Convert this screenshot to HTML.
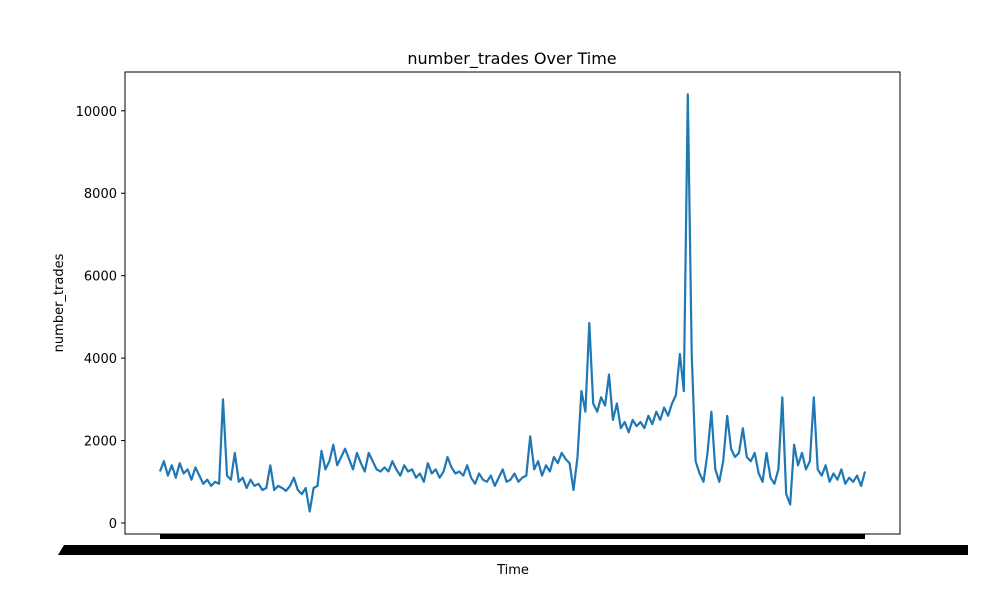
<!DOCTYPE html>
<html><head><meta charset="utf-8"><style>
body{margin:0;background:#fff;font-family:"Liberation Sans","DejaVu Sans",sans-serif}
svg text{font-family:"DejaVu Sans","Liberation Sans",sans-serif;font-size:13px;fill:#000}
</style></head><body>
<svg id="chart" width="1000" height="600">
<rect x="0" y="0" width="1000" height="600" fill="#fff"/>
<text x="512" y="64" text-anchor="middle" style="font-size:16px">number_trades Over Time</text>
<g id="yticks"></g>
<rect x="160" y="534" width="705" height="5" fill="#000"/>
<polygon points="58,555 64,545 968,545 968,555" fill="#000"/>
<text x="513" y="574" text-anchor="middle">Time</text>
<text transform="translate(63,303) rotate(-90)" text-anchor="middle">number_trades</text>
<polyline id="series" fill="none" stroke="#1f77b4" stroke-width="2.2" stroke-linejoin="round"/>
<rect x="125" y="72" width="775" height="462" fill="none" stroke="#000" stroke-width="1"/>
</svg>
<script>
const yTicks=[0,2000,4000,6000,8000,10000];
const values=[1250,1500,1150,1400,1100,1450,1200,1300,1050,1350,1150,
950,1050,900,1000,950,3000,1150,1050,1700,
1000,1100,850,1050,900,950,
800,850,1400,800,900,850,780,900,1100,800,700,850,280,850,900,1750,
1300,1500,1900,1400,1600,1800,1550,1300,1700,1450,1250,1700,1500,1300,1250,
1350,1250,1500,1300,1150,1400,1250,1300,1100,1200,1000,1450,1200,1300,1100,1250,1600,1350,1200,1250,1150,1400,
1100,950,1200,1050,1000,1150,900,1100,1300,1000,1050,1200,1000,1100,1150,2100,
1300,1500,1150,1400,1250,1600,1450,1700,1550,1450,800,1600,3200,2700,4850,
2900,2700,3050,2850,3600,
2500,2900,2300,2450,2200,2500,2350,2450,2300,2600,2400,2700,2500,2800,2600,
2900,3100,4100,3200,10400,4100,1500,
1200,1000,1700,2700,1300,1000,
1500,2600,1800,1600,1700,2300,1600,1500,1700,
1200,1000,1700,1100,950,1300,3050,700,450,
1900,1400,1700,1300,1500,3050,
1300,1150,1400,1000,1200,1050,1300,950,1100,1000,1150,900,1250];
const ns="http://www.w3.org/2000/svg";
const yScale=v=>523-v*0.04122;
const xScale=i=>160+i*705/(values.length-1);
const g=document.getElementById('yticks');
yTicks.forEach(t=>{
  const y=yScale(t);
  const l=document.createElementNS(ns,'line');
  l.setAttribute('x1',121);l.setAttribute('x2',125);l.setAttribute('y1',y);l.setAttribute('y2',y);l.setAttribute('stroke','#000');
  
  
  g.appendChild(l);
  const tx=document.createElementNS(ns,'text');
  tx.setAttribute('x',117);tx.setAttribute('y',y+5);tx.setAttribute('text-anchor','end');
  tx.textContent=t;
  
  
  g.appendChild(tx);
});
document.getElementById('series').setAttribute('points',values.map((v,i)=>xScale(i).toFixed(1)+','+yScale(v).toFixed(1)).join(' '));
</script>
</body></html>
